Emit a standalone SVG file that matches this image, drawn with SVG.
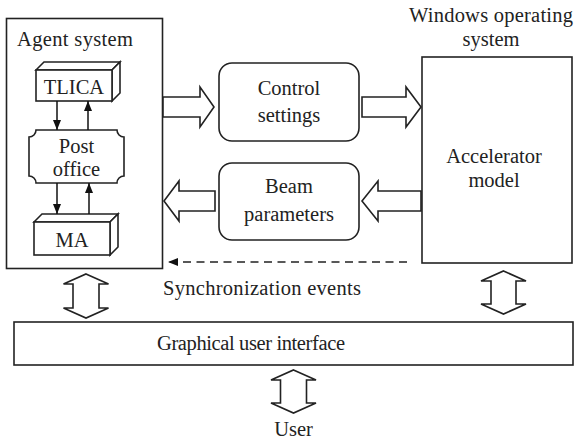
<svg xmlns="http://www.w3.org/2000/svg" width="575" height="439" viewBox="0 0 575 439">
  <style>
    .box { fill: #fff; stroke: #222; stroke-width: 1.6; }
    .rbox { fill: #fff; stroke: #222; stroke-width: 1.6; }
    .blk { fill: #fff; stroke: #222; stroke-width: 1.6; stroke-linejoin: miter; }
    .ln { fill: none; stroke: #111; stroke-width: 1.5; }
    .dash { fill: none; stroke: #222; stroke-width: 1.5; stroke-dasharray: 8 5.5; }
    text { font-family: "Liberation Serif", "Times New Roman", serif; font-size: 20.5px; fill: #222; }
    .c { text-anchor: middle; }
  </style>
  <defs>
    <marker id="head" viewBox="0 0 10 8" refX="10" refY="4" markerWidth="10" markerHeight="8" markerUnits="userSpaceOnUse" orient="auto">
      <path d="M0,0 L10,4 L0,8 Z" fill="#111"/>
    </marker>
  </defs>

  <!-- Agent system container -->
  <g id="agent-system">
    <rect class="box" x="6.5" y="18.5" width="156" height="250"/>
    <text x="17" y="46" textLength="116">Agent system</text>
  </g>

  <!-- TLICA block (3D box) -->
  <g id="tlica">
    <polygon class="box" points="36,70 44,62 120,62 112,70"/>
    <polygon class="box" points="112,70 120,62 120,93 112,101"/>
    <rect class="box" x="36" y="70" width="76" height="31"/>
    <text class="c" x="74" y="94">TLICA</text>
  </g>

  <!-- Post office -->
  <g id="post-office">
    <path class="box" d="M36,130 H117 A7,7 0 0 0 124,137 V176 A7,7 0 0 0 117,183 H36 A7,7 0 0 0 29,176 V137 A7,7 0 0 0 36,130 Z"/>
    <text class="c" x="76.5" y="153">Post</text>
    <text class="c" x="76.5" y="176">office</text>
  </g>

  <!-- MA block (3D box) -->
  <g id="ma">
    <polygon class="box" points="34,222 42,214 118,214 110,222"/>
    <polygon class="box" points="110,222 118,214 118,247 110,255"/>
    <rect class="box" x="34" y="222" width="76" height="33"/>
    <text class="c" x="72" y="247">MA</text>
  </g>

  <!-- Control settings -->
  <g id="control-settings">
    <rect class="rbox" x="219" y="63" width="140" height="78" rx="13" ry="13"/>
    <text class="c" x="289" y="95">Control</text>
    <text class="c" x="289" y="122">settings</text>
  </g>

  <!-- Beam parameters -->
  <g id="beam-parameters">
    <rect class="rbox" x="219" y="163" width="140" height="77" rx="13" ry="13"/>
    <text class="c" x="289" y="193">Beam</text>
    <text class="c" x="289" y="221">parameters</text>
  </g>

  <!-- Windows operating system / Accelerator model -->
  <g id="accelerator-model">
    <text class="c" x="491" y="22" textLength="164">Windows operating</text>
    <text class="c" x="491" y="46">system</text>
    <rect class="box" x="422" y="57" width="150" height="206"/>
    <text class="c" x="494" y="163">Accelerator</text>
    <text class="c" x="494" y="187">model</text>
  </g>

  <!-- Graphical user interface -->
  <g id="gui">
    <rect class="box" x="14" y="322" width="559" height="43"/>
    <text x="157" y="350" textLength="188">Graphical user interface</text>
  </g>

  <!-- User -->
  <g id="user">
    <text class="c" x="293.5" y="436">User</text>
  </g>

  <!-- Connectors -->
  <g id="connectors">
    <!-- agent internal message flow -->
    <line class="ln" x1="57" y1="101" x2="57" y2="130" marker-end="url(#head)"/>
    <line class="ln" x1="88" y1="130" x2="88" y2="101" marker-end="url(#head)"/>
    <line class="ln" x1="57" y1="183" x2="57" y2="214" marker-end="url(#head)"/>
    <line class="ln" x1="89" y1="214" x2="89" y2="183" marker-end="url(#head)"/>

    <!-- block arrows: agent -> control settings -> accelerator -->
    <polygon class="blk" points="163,97 200,97 200,87 214,107 200,127 200,117 163,117"/>
    <polygon class="blk" points="362,97 406,97 406,87 421,107 406,127 406,117 362,117"/>

    <!-- block arrows: accelerator -> beam parameters -> agent -->
    <polygon class="blk" points="421,191 378,191 378,181 362,201 378,221 378,211 421,211"/>
    <polygon class="blk" points="215,191 179,191 179,181 164,201 179,221 179,211 215,211"/>

    <!-- synchronization events -->
    <line class="dash" x1="407" y1="262" x2="168" y2="262" marker-end="url(#head)"/>
    <text x="163" y="295" textLength="198">Synchronization events</text>

    <!-- two-way links to the GUI -->
    <polygon class="blk" points="86,274 108.5,284 99,284 99,308 108.5,308 86,318 63.5,308 73,308 73,284 63.5,284"/>
    <polygon class="blk" points="503.5,271 526,281 516,281 516,304 526,304 503.5,314 481,304 491,304 491,281 481,281"/>
    <polygon class="blk" points="293.5,370 316,380 306.5,380 306.5,403 316,403 293.5,413 271,403 280.5,403 280.5,380 271,380"/>
  </g>
</svg>
